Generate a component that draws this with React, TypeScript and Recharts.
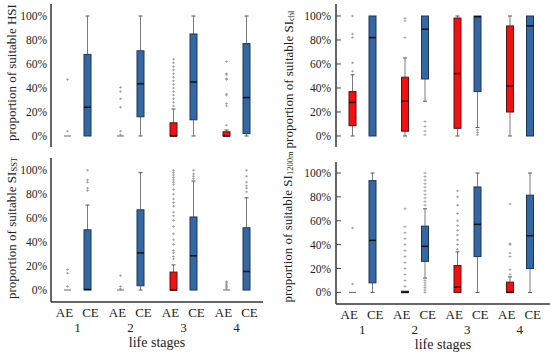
import React from 'react';
import { ComposedChart, Bar, XAxis, YAxis, Label } from 'recharts';

const stages = ['1', '2', '3', '4'];
const groupNames = ['AE', 'CE'];
const yTicks = [0, 20, 40, 60, 80, 100];

// [whisker low, Q1, median, Q3, whisker high] in %
const hsiAE = [[0, 0, 0, 0, 0], [0, 0, 0, 0, 0], [0, 0, 0, 11, 22.5], [0, 0, 0, 3.5, 5]];
const hsiCE = [[0, 0, 24, 68, 100], [0, 16, 43.5, 71, 100], [0, 13.5, 45, 85, 100], [0, 2, 32, 77, 100]];
const hsiAEOut = [
  [4, 47],
  [1, 4, 24, 31, 37, 40.5],
  [25, 28, 31, 34, 37, 40, 43, 46, 49, 52, 55, 58, 61, 64],
  [9, 25, 27, 34, 35, 47, 48, 51, 52, 62],
];
const hsiCEOut = [[], [], [], []];

const chlAE = [[0, 8.6, 28, 37, 51], [0, 4, 29, 49, 65], [0, 6.4, 52, 98.3, 100], [0, 20, 41.7, 91.7, 100]];
const chlCE = [[0, 0, 82, 100, 100], [29, 47.5, 89, 100, 100], [7, 37, 99.4, 100, 100], [0, 0, 91.7, 100, 100]];
const chlAEOut = [[54, 61, 82, 85, 100], [82, 96, 98], [], []];
const chlCEOut = [[], [1, 4, 8, 12], [1, 3, 5], []];

const sstAE = [[0, 0, 0, 0, 0], [0, 0, 0, 0, 0], [0, 0, 0, 15, 21], [0, 0, 0, 0, 0]];
const sstCE = [[0, 0, 0.5, 50.3, 71], [0, 3.6, 31, 67, 98], [0, 0, 28.6, 61, 91], [0, 0, 15.5, 52, 77]];
const sstAEOut = [
  [3, 14, 17],
  [1, 3, 12],
  [26, 28, 31, 33, 38, 42, 47, 53, 58, 62, 65, 70, 73, 76, 80, 84, 88, 90, 92, 94, 96, 98, 100],
  [1, 2, 3, 4, 5, 6, 7],
];
const sstCEOut = [[83, 85, 90, 92, 100], [], [93, 95, 97, 100], [82, 85, 87, 90, 95, 100]];

const d1200AE = [[0, 0, 0, 0, 0], [0, 0, 0, 1, 1], [0, 0, 4.4, 22.5, 34], [0, 0, 0, 8.6, 13]];
const d1200CE = [[0, 8, 43.6, 93.6, 100], [12, 26, 38.6, 55.5, 70], [0, 30, 57, 88.3, 100], [0, 20, 47.5, 81.4, 100]];
const d1200AEOut = [
  [7, 54],
  [5, 10, 15, 20, 25, 30, 35, 40, 45, 50, 55, 70],
  [36, 40, 44, 48, 52, 56, 60, 66, 73, 80, 85],
  [15, 19, 30, 33, 40, 41, 74],
];
const d1200CEOut = [[], [0, 2, 4, 6, 8, 10, 73, 76, 79, 82, 85, 88, 91, 94, 97, 100], [], []];

const FONT = '"Liberation Serif", "Times New Roman", serif';
const COLORS: Record<string, { fill: string; stroke: string }> = {
  AE: { fill: '#f41010', stroke: '#5a1212' },
  CE: { fill: '#3567a2', stroke: '#1c3758' },
};

function buildRows(ae: number[][], ce: number[][], aeOut: number[][], ceOut: number[][]) {
  return stages.map((s, i) => ({ stage: s, AE: ae[i], CE: ce[i], AEout: aeOut[i], CEout: ceOut[i] }));
}

function renderBox(props: any, key: string, dom: [number, number]) {
  const { x, y, width, height, payload } = props;
  const [lo, hi] = dom;
  const py = (v: number) => y + ((hi - v) / (hi - lo)) * height;
  const s: number[] = payload[key];
  const outs: number[] = payload[key + 'out'] || [];
  const cx = x + width / 2;
  const [wl, q1, med, q3, wh] = s;
  const c = COLORS[key];
  const flat = q3 - q1 < 0.01 && wh - wl < 0.01;
  return (
    <g>
      {outs.map((o, i) => (
        <g key={i} stroke="#9a9a9a" strokeWidth={0.8}>
          <line x1={cx - 1.5} x2={cx + 1.5} y1={py(o)} y2={py(o)} />
          <line x1={cx} x2={cx} y1={py(o) - 1.2} y2={py(o) + 1.2} />
        </g>
      ))}
      {wh > q3 && <line x1={cx} x2={cx} y1={py(wh)} y2={py(q3)} stroke="#7a7a7a" strokeWidth={1} />}
      {wl < q1 && <line x1={cx} x2={cx} y1={py(q1)} y2={py(wl)} stroke="#7a7a7a" strokeWidth={1} />}
      {wh > q3 && <line x1={cx - 2} x2={cx + 2} y1={py(wh)} y2={py(wh)} stroke="#555" strokeWidth={1} />}
      {wl < q1 && <line x1={cx - 2} x2={cx + 2} y1={py(wl)} y2={py(wl)} stroke="#555" strokeWidth={1} />}
      {flat ? (
        <line x1={x} x2={x + width} y1={py(q1)} y2={py(q1)} stroke="#666" strokeWidth={1} />
      ) : (
        <rect x={x} y={py(q3)} width={width} height={Math.max(py(q1) - py(q3), 1)} fill={c.fill} stroke={c.stroke} strokeWidth={1} />
      )}
      {!flat && <line x1={x} x2={x + width} y1={py(med)} y2={py(med)} stroke="#111" strokeWidth={1.5} />}
    </g>
  );
}

const StageTick = (props: any) => {
  const { x, y, payload } = props;
  const st = { fontFamily: FONT, fontSize: 13, fill: '#222' };
  return (
    <g>
      <text x={x - 13} y={y + 10} textAnchor="middle" dominantBaseline="central" style={st}>{groupNames[0]}</text>
      <text x={x + 13} y={y + 10} textAnchor="middle" dominantBaseline="central" style={st}>{groupNames[1]}</text>
      <text x={x} y={y + 25} textAnchor="middle" dominantBaseline="central" style={st}>{payload.value}</text>
    </g>
  );
};

const PercentTick = (props: any) => {
  const { x, y, payload } = props;
  return (
    <text x={x} y={y} textAnchor="end" dominantBaseline="central" style={{ fontFamily: FONT, fontSize: 11.5, fill: '#222' }}>
      {`${payload.value}%`}
    </text>
  );
};

type PanelProps = {
  rows: any[];
  left: number;
  top: number;
  width: number;
  height: number;
  margin: { top: number; right: number; bottom: number; left: number };
  yAxisWidth: number;
  xAxisHeight: number;
  domain: [number, number];
  labelMain: string;
  labelSub?: string;
  labelDx: number;
  labelDy: number;
  bottomAxis: boolean;
  innerTicks: boolean;
  padRight: number;
};

function Panel(p: PanelProps) {
  const yLabel = (lp: any) => {
    const vb = lp.viewBox || { x: 0, y: 0, width: 0, height: 0 };
    const cx = vb.x + p.labelDx;
    const cy = vb.y + vb.height / 2 + p.labelDy;
    return (
      <text
        x={cx}
        y={cy}
        transform={`rotate(-90, ${cx}, ${cy})`}
        textAnchor="middle"
        dominantBaseline="central"
        style={{ fontFamily: FONT, fontSize: 13, fill: '#222' }}
      >
        {p.labelMain}
        {p.labelSub && (
          <tspan dy={3} style={{ fontSize: 8.5 }}>
            {p.labelSub}
          </tspan>
        )}
      </text>
    );
  };
  const xLabel = (lp: any) => {
    const vb = lp.viewBox || { x: 0, y: 0, width: 0, height: 0 };
    return (
      <text
        x={vb.x + vb.width / 2}
        y={vb.y + 40}
        textAnchor="middle"
        dominantBaseline="central"
        style={{ fontFamily: FONT, fontSize: 14, fill: '#222' }}
      >
        life stages
      </text>
    );
  };
  return (
    <div style={{ position: 'absolute', left: p.left, top: p.top, width: p.width, height: p.height }}>
      <ComposedChart width={p.width} height={p.height} data={p.rows} margin={p.margin} barSize={7} barGap={13}>
        <XAxis
          dataKey="stage"
          type="category"
          height={p.xAxisHeight}
          axisLine={{ stroke: '#333', strokeWidth: 1.5 }}
          tickLine={false}
          tickSize={0}
          tickMargin={0}
          tick={p.bottomAxis ? <StageTick /> : false}
          padding={{ left: 0, right: p.padRight }}
          interval={0}
        >
          {p.bottomAxis && <Label content={xLabel} />}
        </XAxis>
        <YAxis
          type="number"
          domain={p.domain}
          allowDataOverflow
          ticks={yTicks}
          interval={0}
          width={p.yAxisWidth}
          axisLine={{ stroke: '#333', strokeWidth: 1.5 }}
          tickLine={p.innerTicks ? { stroke: '#444' } : false}
          tickSize={p.innerTicks ? -5 : 4}
          tickMargin={p.innerTicks ? 10 : 0}
          tick={<PercentTick />}
        >
          <Label content={yLabel} />
        </YAxis>
        {groupNames.map((g) => (
          <Bar
            key={g}
            dataKey={() => p.domain}
            isAnimationActive={false}
            shape={(bp: any) => renderBox(bp, g, p.domain)}
          />
        ))}
      </ComposedChart>
    </div>
  );
}

export default function App() {
  const hsiRows = buildRows(hsiAE, hsiCE, hsiAEOut, hsiCEOut);
  const chlRows = buildRows(chlAE, chlCE, chlAEOut, chlCEOut);
  const sstRows = buildRows(sstAE, sstCE, sstAEOut, sstCEOut);
  const d1200Rows = buildRows(d1200AE, d1200CE, d1200AEOut, d1200CEOut);
  return (
    <div style={{ position: 'absolute', left: 0, top: 0, width: 550, height: 354, background: '#fff', overflow: 'hidden' }}>
      <Panel
        rows={hsiRows}
        left={0}
        top={0}
        width={275}
        height={150}
        margin={{ top: 4, right: 12, bottom: 3, left: 0 }}
        yAxisWidth={51}
        xAxisHeight={0}
        domain={[-9.17, 110]}
        labelMain="proportion of suitable HSI"
        labelDx={11}
        labelDy={-3}
        bottomAxis={false}
        innerTicks={false}
        padRight={0}
      />
      <Panel
        rows={chlRows}
        left={275}
        top={0}
        width={275}
        height={150}
        margin={{ top: 4, right: 0, bottom: 3, left: 0 }}
        yAxisWidth={61}
        xAxisHeight={0}
        domain={[-9.17, 110]}
        labelMain="proportion of suitable SI"
        labelSub="chl"
        labelDx={13}
        labelDy={4}
        bottomAxis={false}
        innerTicks={true}
        padRight={4}
      />
      <Panel
        rows={sstRows}
        left={0}
        top={148}
        width={275}
        height={206}
        margin={{ top: 10, right: 12, bottom: 0, left: 0 }}
        yAxisWidth={51}
        xAxisHeight={52}
        domain={[-10, 110.25]}
        labelMain="proportion of suitable SI"
        labelSub="SST"
        labelDx={11}
        labelDy={-2}
        bottomAxis={true}
        innerTicks={false}
        padRight={0}
      />
      <Panel
        rows={d1200Rows}
        left={275}
        top={148}
        width={275}
        height={206}
        margin={{ top: 14, right: 0, bottom: 0, left: 0 }}
        yAxisWidth={61}
        xAxisHeight={50}
        domain={[-9.7, 109.2]}
        labelMain="proportion of suitable SI"
        labelSub="1200m"
        labelDx={12}
        labelDy={-6}
        bottomAxis={true}
        innerTicks={true}
        padRight={4}
      />
    </div>
  );
}
